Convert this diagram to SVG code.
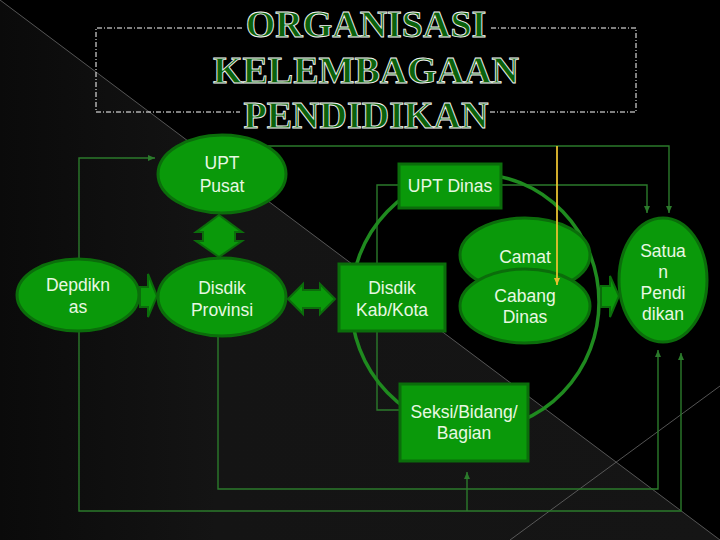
<svg xmlns="http://www.w3.org/2000/svg" width="720" height="540" viewBox="0 0 720 540">
<defs>
<style>
.nd{fill:#0a990a;stroke:#0b6d0b;stroke-width:3}
.tx{font-family:"Liberation Sans",Arial,sans-serif;font-size:17.5px;fill:#e8f8e2;text-anchor:middle}
.ttl{font-family:"Liberation Serif","Times New Roman",serif;font-weight:bold;font-size:38px;fill:#0b610b;stroke:#f4f4f4;stroke-width:0.9;text-anchor:middle}
.ln{fill:none;stroke:#2b7a2b;stroke-width:1.4}
.ba{fill:#0a990a;stroke:#0b6d0b;stroke-width:2;stroke-linejoin:miter}
</style>
<marker id="ah" markerWidth="8" markerHeight="8" refX="7" refY="4" orient="auto" markerUnits="userSpaceOnUse">
<path d="M0,1 L7,4 L0,7 Z" fill="#2b7a2b"/>
</marker>
<marker id="ay" markerWidth="8" markerHeight="8" refX="7" refY="4" orient="auto" markerUnits="userSpaceOnUse">
<path d="M0,1 L7,4 L0,7 Z" fill="#e8c030"/>
</marker>
<linearGradient id="bg" x1="0" y1="0" x2="1" y2="0">
<stop offset="0" stop-color="#0a0a0a"/>
<stop offset="0.3" stop-color="#141414"/>
<stop offset="1" stop-color="#151515"/>
</linearGradient>
</defs>
<rect width="720" height="540" fill="#000"/>
<polygon points="0,0 720,540 0,540" fill="url(#bg)"/>
<line x1="0" y1="0" x2="720" y2="540" stroke="#6a6a6a" stroke-width="0.8"/>
<line x1="510" y1="540" x2="720" y2="386" stroke="#6a6a6a" stroke-width="0.8"/>

<g id="title">
<path d="M242,28 H96 V112 H240 M490,112 H636 V28 H490" fill="none" stroke="#fff" stroke-width="1" stroke-dasharray="5 2 1 2"/>
<text class="ttl" x="366" y="37">ORGANISASI</text>
<text class="ttl" x="366" y="83">KELEMBAGAAN</text>
<text class="ttl" x="366" y="128">PENDIDIKAN</text>
</g>

<g id="connectors">
<path class="ln" d="M79,258 V158 H155" marker-end="url(#ah)"/>
<path class="ln" d="M268,146 H669 V213" marker-end="url(#ah)"/>
<path class="ln" d="M400,410 H377 V185 H647 V213" marker-end="url(#ah)"/>
<path class="ln" d="M218,337 V489 H658 V350" marker-end="url(#ah)"/>
<path class="ln" d="M79,332 V511 H681 V353" marker-end="url(#ah)"/>
<path class="ln" d="M467,511 V472" marker-end="url(#ah)"/>
<ellipse cx="475" cy="302" rx="124" ry="128" fill="none" stroke="#1f8a1f" stroke-width="3.5"/>
</g>

<g id="upt-pusat">
<ellipse class="nd" cx="222" cy="174" rx="64" ry="39"/>
<text class="tx" x="222" y="169">UPT</text>
<text class="tx" x="222" y="192">Pusat</text>
</g>
<g id="depdiknas">
<ellipse class="nd" cx="78" cy="295" rx="61" ry="36"/>
<text class="tx" x="78" y="291">Depdikn</text>
<text class="tx" x="78" y="313">as</text>
</g>
<g id="disdik-provinsi">
<ellipse class="nd" cx="222" cy="297" rx="64" ry="39"/>
<text class="tx" x="222" y="294">Disdik</text>
<text class="tx" x="222" y="316">Provinsi</text>
</g>
<g id="disdik-kabkota">
<rect class="nd" x="339" y="264" width="106" height="67"/>
<text class="tx" x="392" y="294">Disdik</text>
<text class="tx" x="392" y="316">Kab/Kota</text>
</g>
<g id="upt-dinas">
<rect class="nd" x="399" y="164" width="102" height="44"/>
<text class="tx" x="450" y="192">UPT Dinas</text>
</g>
<g id="camat">
<ellipse class="nd" cx="525" cy="255" rx="65" ry="37"/>
<text class="tx" x="525" y="263">Camat</text>
</g>
<g id="cabang-dinas">
<ellipse class="nd" cx="525" cy="306" rx="65" ry="37"/>
<text class="tx" x="525" y="302">Cabang</text>
<text class="tx" x="525" y="323">Dinas</text>
</g>
<g id="satuan-pendidikan">
<ellipse class="nd" cx="663" cy="280" rx="44" ry="62"/>
<text class="tx" x="663" y="257">Satua</text>
<text class="tx" x="663" y="278">n</text>
<text class="tx" x="663" y="299">Pendi</text>
<text class="tx" x="663" y="320">dikan</text>
</g>
<g id="seksi-bidang-bagian">
<rect class="nd" x="400" y="384" width="128" height="77"/>
<text class="tx" x="464" y="418">Seksi/Bidang/</text>
<text class="tx" x="464" y="439">Bagian</text>
</g>

<g id="block-arrows">
<path class="ba" d="M219,215 L242,232 L235,232 L235,241 L242,241 L219,257 L196,241 L203,241 L203,232 L196,232 Z"/>
<path class="ba" d="M288,299 L303,284 L303,290 L320,290 L320,284 L335,299 L320,314 L320,308 L303,308 L303,314 Z"/>
<path class="ba" d="M140,287 L148,287 L148,274 L157,296 L148,317 L148,307 L140,307 Z"/>
<path class="ba" d="M601,286 L610,286 L610,276 L619,296 L610,317 L610,307 L601,307 Z"/>
</g>

<g id="yellow-connector">
<path d="M557,146 V285" fill="none" stroke="#e8c030" stroke-width="1.8" marker-end="url(#ay)"/>
</g>
</svg>
